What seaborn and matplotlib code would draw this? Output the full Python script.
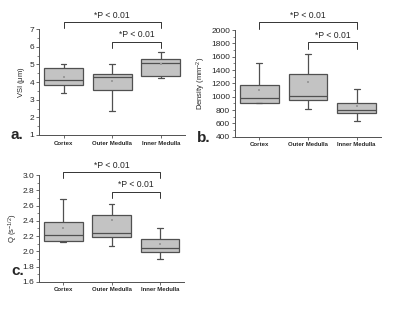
import numpy as np
import pandas as pd
import seaborn as sns
import matplotlib.pyplot as plt
from matplotlib.ticker import MultipleLocator

# regions on the x axis
regions = ["Cortex", "Outer Medulla", "Inner Medulla"]

# five-number summaries: [whisker low, Q1, median, Q3, whisker high]
vsi_cortex = [3.37, 3.85, 4.10, 4.78, 5.03]
vsi_outer = [2.36, 3.56, 4.28, 4.44, 5.03]
vsi_inner = [4.22, 4.33, 5.07, 5.31, 5.73]
vsi_mean = [4.30, 4.06, 5.03]

density_cortex = [900, 910, 975, 1182, 1510]
density_outer = [818, 952, 1015, 1343, 1637]
density_inner = [642, 753, 803, 909, 1121]
density_mean = [1101, 1222, 859]

q_cortex = [2.12, 2.13, 2.21, 2.38, 2.69]
q_outer = [2.07, 2.19, 2.245, 2.47, 2.62]
q_inner = [1.905, 1.985, 2.045, 2.155, 2.31]
q_mean = [2.31, 2.415, 2.10]

# significance brackets: (from, to, bar height, leg end, text height)
vsi_brackets = [(0, 2, 7.43, 7.06, 7.80), (1, 2, 6.30, 5.94, 6.70)]
density_brackets = [(0, 2, 2116, 2015, 2217), (1, 2, 1813, 1712, 1924)]
q_brackets = [(0, 2, 3.043, 2.957, 3.13), (1, 2, 2.773, 2.694, 2.878)]
sig_text = "*P < 0.01"

sns.set_style("ticks")
plt.rcParams['font.family'] = ['Liberation Sans', 'DejaVu Sans']
plt.rcParams['mathtext.fontset'] = 'custom'
plt.rcParams['mathtext.rm'] = 'Liberation Sans'
plt.rcParams['mathtext.it'] = 'Liberation Sans'

edge = "#505050"
fill = "#c3c3c3"

fig = plt.figure(figsize=(4.0, 3.11), dpi=100)
ax_a = fig.add_axes([0.098, 0.566, 0.365, 0.340])
ax_b = fig.add_axes([0.5875, 0.560, 0.365, 0.3435])
ax_c = fig.add_axes([0.098, 0.094, 0.362, 0.343])


def draw_panel(ax, groups, means, brackets, ylim, major, minor, ylabel, fmt):
    df = pd.DataFrame({
        "region": np.repeat(regions, 5),
        "value": np.concatenate(groups),
    })
    sns.boxplot(data=df, x="region", y="value", order=regions, ax=ax,
                whis=(0, 100), width=0.8, color=fill, saturation=1,
                linecolor=edge, linewidth=0.9, showfliers=False,
                capwidths=0.12)
    mdf = pd.DataFrame({"region": regions, "value": means})
    sns.stripplot(data=mdf, x="region", y="value", order=regions, ax=ax,
                  jitter=False, marker="s", size=1.6, color="#9a9a9a",
                  linewidth=0, zorder=5)
    ax.set_xlim(-0.5, 2.5)
    ax.set_ylim(*ylim)
    ax.yaxis.set_major_locator(MultipleLocator(major))
    ax.yaxis.set_minor_locator(MultipleLocator(minor))
    ax.yaxis.set_major_formatter(fmt)
    ax.set_xlabel("")
    ax.set_ylabel(ylabel, fontsize=5.5, labelpad=2)
    ax.tick_params(axis="y", which="major", labelsize=6, length=2.5,
                   width=0.6, color=edge, pad=1)
    ax.tick_params(axis="y", which="minor", length=1.3, width=0.5, color=edge)
    ax.tick_params(axis="x", labelsize=4.3, length=2, width=0.6,
                   color=edge, pad=2)
    for lab in ax.get_xticklabels():
        lab.set_fontweight("bold")
    sns.despine(ax=ax)
    for s in ["left", "bottom"]:
        ax.spines[s].set_color(edge)
        ax.spines[s].set_linewidth(0.7)
    for x0, x1, ybar, yleg, ytxt in brackets:
        ax.plot([x0, x0, x1, x1], [yleg, ybar, ybar, yleg], color="#333333",
                lw=0.7, clip_on=False)
        ax.text((x0 + x1) / 2, ytxt, sig_text, ha="center", va="center",
                fontsize=6.2)


draw_panel(ax_a, [vsi_cortex, vsi_outer, vsi_inner], vsi_mean, vsi_brackets,
           (1, 7), 1, 0.5, "VSI ($\\mu$m)", "{x:.0f}")
draw_panel(ax_b, [density_cortex, density_outer, density_inner], density_mean,
           density_brackets, (400, 2000), 200, 100,
           "Density (mm$^{-2}$)", "{x:.0f}")
draw_panel(ax_c, [q_cortex, q_outer, q_inner], q_mean, q_brackets,
           (1.6, 3.0), 0.2, 0.1, "Q (s$^{-1/2}$)", "{x:.1f}")

fig.text(0.043, 0.565, "a.", fontsize=11, fontweight="bold", ha="center", va="center")
fig.text(0.510, 0.557, "b.", fontsize=11, fontweight="bold", ha="center", va="center")
fig.text(0.044, 0.128, "c.", fontsize=11, fontweight="bold", ha="center", va="center")

fig.savefig("out.png", dpi=100)
